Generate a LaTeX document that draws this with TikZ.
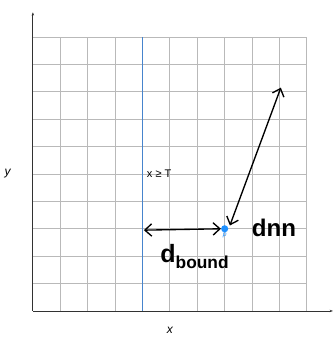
\documentclass[tikz,border=0pt]{standalone}
\usepackage{fontspec}
\setmainfont{Liberation Sans}
\usetikzlibrary{arrows.meta}
\definecolor{gridgray}{RGB}{185,185,185}
\definecolor{axisgray}{RGB}{50,50,50}
\definecolor{boundblue}{RGB}{70,132,205}
\definecolor{pointblue}{RGB}{30,144,255}

\begin{document}
\begin{tikzpicture}[x=1cm,y=1cm,
    hand/.style={line width=1.4pt, black, {Straight Barb[length=2.5mm,width=4.5mm]}-{Straight Barb[length=2.5mm,width=4.5mm]}},
    handtext/.style={font=\bfseries, inner sep=0pt}]
        \useasboundingbox (-1.2,-0.95) rectangle (10.95,11.35);
        \draw[gridgray, line width=0.8pt] (0,0) grid (10,10);
        \draw[axisgray, line width=0.9pt, -{Stealth[length=1.2mm]}] (0,0) -- (10.95,0);
        \draw[axisgray, line width=0.9pt, -{Stealth[length=1.2mm]}] (0,0) -- (0,10.9);
        \node (ylab) at (-0.92,5.0) {\fontsize{12.5}{12.5}\selectfont\itshape y};
        \node (xlab) at (5,-0.7) {\fontsize{12.5}{12.5}\selectfont\itshape x};

        \draw[boundblue, line width=1.5pt] (4,0) coordinate (bbot) -- (4,10) coordinate (btop);
        \node[right, inner sep=1pt] (cond) at (4.12,5.02) {\fontsize{11.5}{11.5}\selectfont x ≥ T};

        \node[circle, fill=pointblue, inner sep=0pt, minimum size=2.6mm] (p) at (7,3) {};
        \node[pointblue, below, inner sep=0.5pt] (plab) at (p.south) {\scriptsize\itshape p};

        \coordinate (bhit) at (4.05,2.95);
        \draw[hand] (bhit) -- (p.west);
        \node[handtext] (dbound) at (5.9,2.0) {\fontsize{26}{26}\selectfont d\raisebox{-0.45ex}{\fontsize{18}{18}\selectfont bound}};

        \coordinate (nnfoot) at (7.19,3.12);
        \coordinate (nntop) at (9.05,8.15);
        \draw[hand] (nnfoot) -- (nntop);
        \node[handtext] (dnn) at (8.8,3.05) {\fontsize{25}{25}\selectfont dnn};
      \end{tikzpicture}
\end{document}
